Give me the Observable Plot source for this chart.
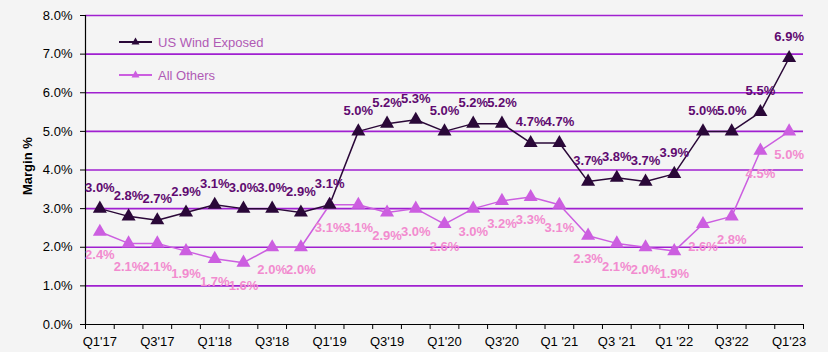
<!DOCTYPE html>
<html><head><meta charset="utf-8">
<script src="https://cdn.jsdelivr.net/npm/d3@7"></script>
<script src="https://cdn.jsdelivr.net/npm/@observablehq/plot@0.6"></script>
<style>
html,body{margin:0;padding:0;background:#f4f4f4;}
#chart{position:relative;width:828px;height:352px;font-family:"Liberation Sans",Arial,sans-serif;}
.legend{position:absolute;left:119px;font-size:13px;color:#b05ab4;display:flex;align-items:center;white-space:nowrap;}
.legend svg{margin-right:5px;}
</style></head><body>
<div id="chart"></div>
<script>
const quarters = ["Q1'17","Q2'17","Q3'17","Q4'17","Q1'18","Q2'18","Q3'18","Q4'18",
  "Q1'19","Q2'19","Q3'19","Q4'19","Q1'20","Q2'20","Q3'20","Q4'20",
  "Q1'21","Q2'21","Q3'21","Q4'21","Q1'22","Q2'22","Q3'22","Q4'22","Q1'23"];
const windExposed = [3.0,2.8,2.7,2.9,3.1,3.0,3.0,2.9,3.1,5.0,5.2,5.3,5.0,5.2,5.2,4.7,4.7,3.7,3.8,3.7,3.9,5.0,5.0,5.5,6.9];
const allOthers = [2.4,2.1,2.1,1.9,1.7,1.6,2.0,2.0,3.1,3.1,2.9,3.0,2.6,3.0,3.2,3.3,3.1,2.3,2.1,2.0,1.9,2.6,2.8,4.5,5.0];
const tickLabels = ["Q1'17","Q3'17","Q1'18","Q3'18","Q1'19","Q3'19","Q1'20","Q3'20","Q1 '21","Q3 '21","Q1 '22","Q3'22","Q1'23"];
const yTicks = [0,1,2,3,4,5,6,7,8];
const seriesNames = ["US Wind Exposed","All Others"];

const darkColor = "#2a0838";
const lightColor = "#cc5ee0";
const darkLabel = "#600a70";
const lightLabel = "#f28bcf";
const gridColor = "#a020d0";

const data = quarters.map((q, i) => ({i, q, wind: windExposed[i], others: allOthers[i]}));
const n = quarters.length;
const xDomain = [-0.5, n - 0.5];
const boundaries = d3.range(n + 1).map(k => k - 0.5);
const labelTicks = d3.range(0, n, 2);
const fmt = v => v.toFixed(1) + "%";

const chart = Plot.plot({
  width: 828, height: 352,
  marginLeft: 85, marginRight: 25, marginTop: 15, marginBottom: 28,
  style: {background: "#f4f4f4", fontFamily: "'Liberation Sans', Arial, sans-serif", fontSize: "13px", overflow: "visible"},
  x: {type: "linear", domain: xDomain, axis: null},
  y: {domain: [0, 8], axis: null},
  marks: [
    Plot.ruleY(yTicks.filter(v => v > 0), {stroke: gridColor, strokeWidth: 1.6}),
    Plot.ruleY([0], {stroke: "#000", strokeWidth: 1.2}),
    Plot.ruleX([xDomain[0]], {stroke: "#000", strokeWidth: 1.2}),
    Plot.axisY({ticks: yTicks, tickFormat: fmt, tickSize: 5, tickPadding: 8, fontSize: 13, fill: "#000", label: null}),
    Plot.axisX({ticks: boundaries, tickFormat: () => "", tickSize: 5, label: null}),
    Plot.axisX({ticks: labelTicks, tickFormat: i => tickLabels[i / 2], tickSize: 0, tickPadding: 12, fontSize: 13, fill: "#000", label: null}),
    Plot.text([seriesNames[0]], {text: () => "Margin %", frameAnchor: "left", dx: -58, dy: 25, rotate: -90, fontWeight: "bold", fontSize: 13, fill: "#000"}),
    Plot.line(data, {x: "i", y: "others", stroke: lightColor, strokeWidth: 1.5}),
    Plot.line(data, {x: "i", y: "wind", stroke: darkColor, strokeWidth: 1.5}),
    Plot.dot(data, {x: "i", y: "others", symbol: "triangle", r: 5.2, fill: lightColor}),
    Plot.dot(data, {x: "i", y: "wind", symbol: "triangle", r: 5.2, fill: darkColor}),
    Plot.text(data, {x: "i", y: "others", text: d => fmt(d.others), dy: 23, fill: lightLabel, fontWeight: "bold", fontSize: 13}),
    Plot.text(data, {x: "i", y: "wind", text: d => fmt(d.wind), dy: -21, fill: darkLabel, fontWeight: "bold", fontSize: 13})
  ]
});
const root = document.getElementById("chart");
root.appendChild(chart);

function legendItem(name, color, top) {
  const div = document.createElement("div");
  div.className = "legend";
  div.style.top = (top - 9) + "px";
  div.innerHTML = `<svg width="34" height="18" viewBox="0 0 34 18"><line x1="0" y1="9" x2="33" y2="9" stroke="${color}" stroke-width="1.8"/><path d="M16.5,4.5 L20.5,11.5 L12.5,11.5 Z" fill="${color}"/></svg><span>${name}</span>`;
  root.appendChild(div);
}
legendItem(seriesNames[0], darkColor, 42);
legendItem(seriesNames[1], lightColor, 75);
</script>
</body></html>
